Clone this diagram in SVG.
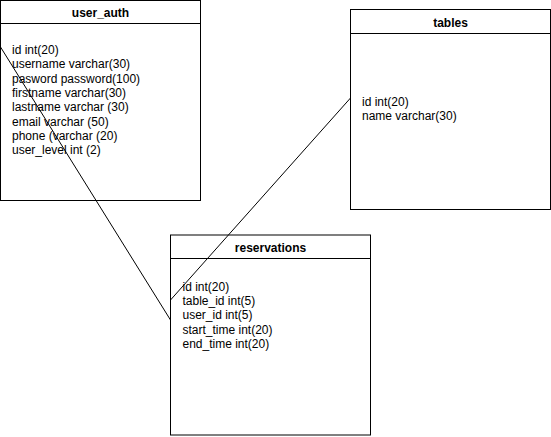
<svg xmlns="http://www.w3.org/2000/svg" width="551" height="437" viewBox="0 0 551 437">
<style>
.box{fill:#ffffff;stroke:#000000;stroke-width:1}
.div{stroke:#000000;stroke-width:1}
.t{font-family:"Liberation Sans",Arial,sans-serif;font-size:12px;fill:#000000}
.h{font-family:"Liberation Sans",Arial,sans-serif;font-size:12px;font-weight:bold;fill:#000000;text-anchor:middle}
.c{fill:none;stroke:#000000;stroke-width:1}
</style>
<rect width="551" height="437" fill="#ffffff"/>
<g id="user_auth">
<rect class="box" x="0.5" y="0.5" width="200" height="200"/>
<line class="div" x1="0.5" y1="23.5" x2="200.5" y2="23.5"/>
<text class="h" x="100.5" y="17">user_auth</text>
<text class="t" x="12" y="54">id int(20)</text>
<text class="t" x="12" y="68.3">username varchar(30)</text>
<text class="t" x="12" y="82.6">pasword password(100)</text>
<text class="t" x="12" y="96.9">firstname varchar(30)</text>
<text class="t" x="12" y="111.2">lastname varchar (30)</text>
<text class="t" x="12" y="125.5">email varchar (50)</text>
<text class="t" x="12" y="139.8">phone (varchar (20)</text>
<text class="t" x="12" y="154.1">user_level int (2)</text>
</g>
<g id="tables">
<rect class="box" x="350.5" y="9.5" width="200" height="200"/>
<line class="div" x1="350.5" y1="33.5" x2="550.5" y2="33.5"/>
<text class="h" x="450.5" y="26.5">tables</text>
<text class="t" x="362" y="106">id int(20)</text>
<text class="t" x="362" y="120.3">name varchar(30)</text>
</g>
<g id="reservations">
<rect class="box" x="170.5" y="235" width="200" height="200"/>
<line class="div" x1="170.5" y1="258.5" x2="370.5" y2="258.5"/>
<text class="h" x="270.5" y="252">reservations</text>
<text class="t" x="182.5" y="290.7">id int(20)</text>
<text class="t" x="182.5" y="305">table_id int(5)</text>
<text class="t" x="182.5" y="319.3">user_id int(5)</text>
<text class="t" x="182.5" y="333.6">start_time int(20)</text>
<text class="t" x="182.5" y="347.9">end_time int(20)</text>
</g>
<g id="connectors">
<line class="c" x1="0.5" y1="47" x2="170.5" y2="320"/>
<line class="c" x1="350.5" y1="98" x2="170.5" y2="300"/>
</g>
</svg>
